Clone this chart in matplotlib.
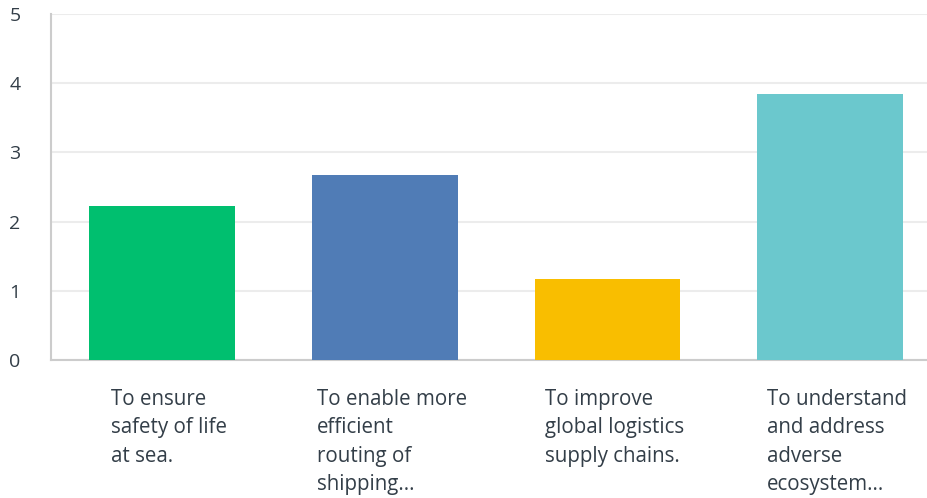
import matplotlib.pyplot as plt

# average ranking per purpose
categories = [
    'To ensure\nsafety of life\nat sea.',
    'To enable more\nefficient\nrouting of\nshipping...',
    'To improve\nglobal logistics\nsupply chains.',
    'To understand\nand address\nadverse\necosystem...',
]
scores = [2.22, 2.67, 1.17, 3.84]
colors = ['#00bf6f', '#507cb6', '#f9be00', '#6bc8cd']
y_ticks = [0, 1, 2, 3, 4, 5]

plt.rcParams['font.family'] = ['Open Sans', 'DejaVu Sans']

fig = plt.figure(figsize=(9.27, 4.98), dpi=100)
ax = fig.add_axes([51 / 927, 138 / 498, 876 / 927, 346 / 498])

x = list(range(len(scores)))
ax.bar(x, scores, width=0.655, color=colors, zorder=3)

ax.set_xlim(-0.5, 3.435)
ax.set_ylim(0, 5)
ax.set_yticks(y_ticks)
ax.set_yticklabels([str(t) for t in y_ticks], fontsize=14, color='#333e48')
ax.tick_params(axis='y', length=0, pad=22)
ax.set_xticks([])
ax.grid(axis='y', color='#ececec', linewidth=1.5, zorder=0)

for side in ['top', 'right']:
    ax.spines[side].set_visible(False)
for side in ['left', 'bottom']:
    ax.spines[side].set_color('#cccccc')
    ax.spines[side].set_linewidth(1.5)

# wrapped category labels under each bar
for xi, label in zip(x, categories):
    ax.text(xi + 0.03, -0.42, label, ha='center', va='top', fontsize=14.8,
            multialignment='left', color='#333e48', linespacing=1.46,
            transform=ax.transData, clip_on=False)

fig.savefig('out.png', dpi=100)
